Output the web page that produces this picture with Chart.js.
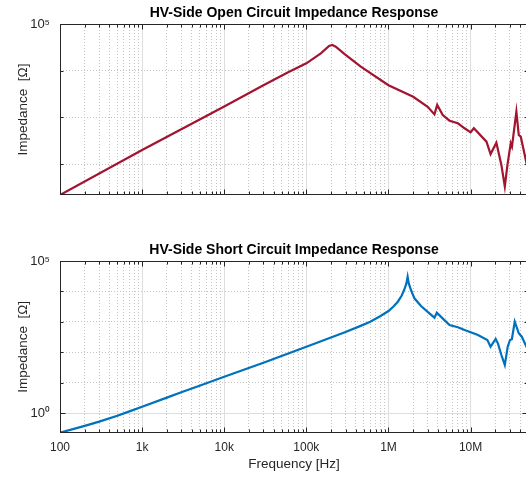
<!DOCTYPE html>
<html>
<head>
<meta charset="utf-8">
<script src="https://cdn.jsdelivr.net/npm/chart.js@4/dist/chart.umd.min.js"></script>
<style>
html, body { margin: 0; padding: 0; background: #fff; overflow: hidden; }
canvas { position: absolute; left: 0; }
#openChart { top: 0; }
#shortChart { top: 240px; }
</style>
</head>
<body>
<canvas id="openChart" width="528" height="240"></canvas>
<canvas id="shortChart" width="528" height="237"></canvas>
<script>
// open circuit impedance (Hz, Ohm)
var freqOpen = [100, 1000, 10000, 30000, 60000, 100000, 150000, 189000, 207000, 228000, 290000, 460000, 1e6, 2e6, 3e6,
    3.63e6, 3.92e6, 4.58e6, 5.54e6, 7.0e6, 8.45e6, 1.0e7, 1.096e7, 1.56e7, 1.75e7, 2.06e7, 2.37e7, 2.61e7,
    2.81e7, 3.08e7, 3.19e7, 3.61e7, 3.86e7, 4.08e7, 5.0e7];
var zOpen = [21.8, 200, 1710, 4900, 9300, 14400, 23600, 33800, 35500, 32700, 23000, 12200, 4900, 2770, 1690,
    1160, 1850, 1125, 850, 748, 585, 480, 585, 302, 164, 287, 96, 33,
    96, 279, 236, 1325, 420, 386, 75];

// short circuit impedance (Hz, Ohm)
var freqShort = [100, 200, 300, 500, 700, 1000, 2000, 3000, 5000, 10000, 30000, 100000, 300000, 450000, 600000,
    800000, 1e6, 1.15e6, 1.3e6, 1.45e6, 1.55e6, 1.65e6, 1.71e6, 1.77e6, 1.88e6, 2.07e6, 2.49e6, 3.15e6,
    3.63e6, 3.88e6, 4.56e6, 5.54e6, 7.0e6, 8.45e6, 1.23e7, 1.6e7, 1.75e7, 2.02e7, 2.15e7, 2.37e7, 2.61e7,
    2.83e7, 3.02e7, 3.18e7, 3.45e7, 3.86e7, 4.2e7, 5.0e7];
var zShort = [0.225, 0.376, 0.519, 0.815, 1.13, 1.61, 3.2, 4.8, 7.9, 15.6, 45.2, 151, 460, 720, 1000,
    1560, 2265, 3200, 4580, 7300, 11100, 18000, 30500, 18000, 11100, 5930, 3310, 1900,
    1365, 1990, 1300, 785, 659, 537, 368, 252, 152, 272, 196, 81, 38,
    152, 252, 266, 1007, 419, 324, 118];

var freqTickVals = [100, 1000, 10000, 100000, 1000000, 10000000];
var freqTickText = ['100', '1k', '10k', '100k', '1M', '10M'];
var freqMax = 5e7;

var yTicksOpen = [100, 1000, 10000, 100000];
var yLabelOpen = {100000: '10\u2075'};
var yTicksShort = [1, 10, 100, 1000, 10000, 100000];
var yLabelShort = {1: '10\u2070', 100000: '10\u2075'};

var fam = '"Liberation Sans", Arial, Helvetica, sans-serif';

// minor x ticks 2..9 in every decade
var xTicks = [];
freqTickVals.forEach(function(d){
    for (let m = 1; m < 10; m++) {
        if (d * m <= freqMax) xTicks.push(d * m);
    }
});

function isDecade(v){
    var l = Math.log10(v);
    return Math.abs(l - Math.round(l)) < 1e-9;
}

var boxPlugin = {
    id: 'box',
    afterDraw: function(chart, args, opts){
        var ctx = chart.ctx, a = chart.chartArea, sx = chart.scales.x, sy = chart.scales.y;
        var l = Math.round(a.left) + 0.5, t = Math.round(a.top) + 0.5;
        var r = Math.round(a.right) - 0.5, b = Math.round(a.bottom) - 0.5;
        ctx.save();
        ctx.strokeStyle = '#262626';
        ctx.lineWidth = 1;
        ctx.strokeRect(l, t, r - l, b - t);
        ctx.beginPath();
        sx.ticks.forEach(function(tk){
            var px = Math.round(sx.getPixelForValue(tk.value)) + 0.5;
            var len = isDecade(tk.value) ? 5 : 3;
            ctx.moveTo(px, b); ctx.lineTo(px, b - len);
            ctx.moveTo(px, t); ctx.lineTo(px, t + len);
        });
        sy.ticks.forEach(function(tk){
            var py = Math.round(sy.getPixelForValue(tk.value)) + 0.5;
            var len = opts.labels[tk.value] ? 5 : 3;
            ctx.moveTo(l, py); ctx.lineTo(l + len, py);
            ctx.moveTo(r, py); ctx.lineTo(r - len, py);
        });
        ctx.stroke();
        ctx.restore();
    }
};

function renderiza(canvasId, freq, z, color, title, yTicks, yLabels, showX, titleBox, titlePadTop, xHeight){
    var pts = freq.map(function(f, i){ return {x: f, y: z[i]}; });
    var ctx = document.getElementById(canvasId).getContext('2d');
    return new Chart(ctx, {
        type: 'line',
        data: {
            datasets: [{
                data: pts,
                borderColor: color,
                borderWidth: 2.2,
                pointRadius: 0,
                tension: 0,
                fill: false
            }]
        },
        plugins: [boxPlugin],
        options: {
            responsive: false,
            animation: false,
            devicePixelRatio: 1,
            layout: { padding: 0 },
            plugins: {
                legend: { display: false },
                tooltip: { enabled: false },
                title: {
                    display: true,
                    fullSize: false,
                    text: title,
                    color: '#000',
                    font: { family: fam, size: 14, weight: 'bold', lineHeight: 1.2 },
                    padding: { top: titlePadTop, bottom: titleBox - titlePadTop - 16.8 }
                },
                box: { labels: yLabels }
            },
            scales: {
                x: {
                    type: 'logarithmic',
                    min: freq[0],
                    max: freqMax,
                    afterBuildTicks: function(s){ s.ticks = xTicks.map(function(v){ return {value: v}; }); },
                    afterFit: function(s){ s.height = xHeight; s.paddingLeft = 0; s.paddingRight = 0; },
                    grid: {
                        drawTicks: false,
                        color: function(c){ return c.tick && isDecade(c.tick.value) ? '#dedede' : '#c4c4c4'; }
                    },
                    border: {
                        display: false,
                        dash: function(c){ return c.tick && !isDecade(c.tick.value) ? [1, 2] : []; }
                    },
                    ticks: {
                        display: showX,
                        autoSkip: false,
                        maxRotation: 0,
                        padding: 8,
                        color: '#262626',
                        font: { family: fam, size: 12 },
                        callback: function(v){
                            var i = freqTickVals.indexOf(v);
                            return i >= 0 ? freqTickText[i] : '';
                        }
                    },
                    title: {
                        display: showX,
                        text: 'Frequency [Hz]',
                        color: '#262626',
                        font: { family: fam, size: 13.5 },
                        padding: { top: 0, bottom: 5 }
                    }
                },
                y: {
                    type: 'logarithmic',
                    min: z[0],
                    max: 100000,
                    afterBuildTicks: function(s){ s.ticks = yTicks.map(function(v){ return {value: v}; }); },
                    afterFit: function(s){ s.width = 60; s.paddingTop = 0; s.paddingBottom = 0; },
                    grid: {
                        drawTicks: false,
                        color: function(c){ return c.tick && yLabels[c.tick.value] ? '#dedede' : '#c4c4c4'; }
                    },
                    border: {
                        display: false,
                        dash: function(c){ return c.tick && !yLabels[c.tick.value] ? [1, 2] : []; }
                    },
                    ticks: {
                        autoSkip: false,
                        padding: 10,
                        color: '#262626',
                        font: { family: fam, size: 13 },
                        callback: function(v){ return yLabels[v] || ''; }
                    },
                    title: {
                        display: true,
                        text: 'Impedance  [\u03A9]',
                        color: '#262626',
                        font: { family: fam, size: 13.5 },
                        padding: { top: 15, bottom: 0 }
                    }
                }
            }
        }
    });
}

renderiza('openChart', freqOpen, zOpen, '#A2142F', 'HV-Side Open Circuit Impedance Response',
    yTicksOpen, yLabelOpen, false, 24, 5, 45);
renderiza('shortChart', freqShort, zShort, '#0072BD', 'HV-Side Short Circuit Impedance Response',
    yTicksShort, yLabelShort, true, 21, 2.2, 44.3);
</script>
</body>
</html>
